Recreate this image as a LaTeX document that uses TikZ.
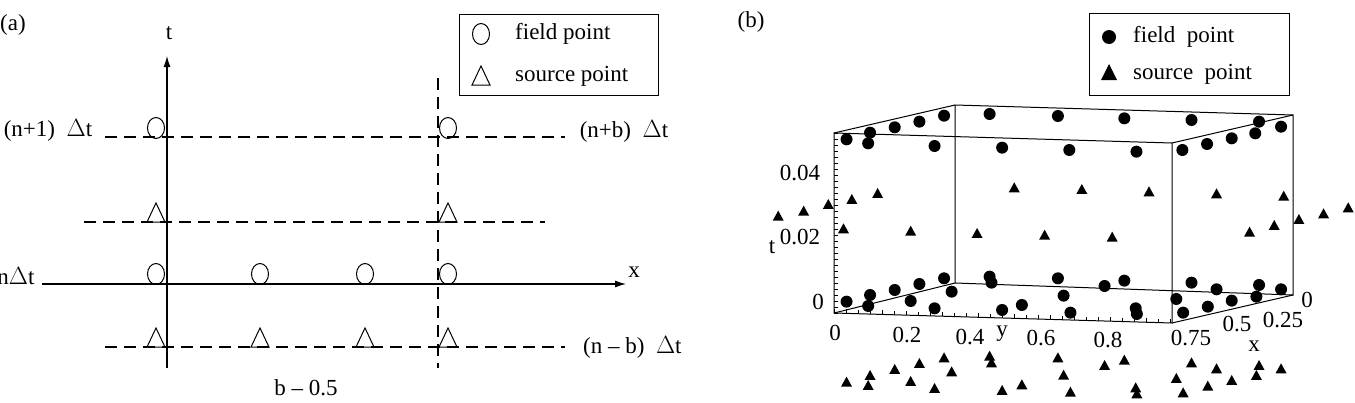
\documentclass[tikz,border=0pt]{standalone}
\usepackage{fontspec}
\setmainfont{Liberation Serif}
\begin{document}
\begin{tikzpicture}[x=1pt,y=-1pt,
  txt/.style={font=\fontsize{23}{26}\selectfont, inner sep=0pt},
  axis/.style={line width=1.1pt, -{Latex[length=11pt,width=7pt]}},
  dline/.style={line width=1.1pt, dash pattern=on 12pt off 7pt},
  ocirc/.style={draw, line width=1pt, ellipse, minimum width=17pt, minimum height=21pt, inner sep=0pt},
  fdot/.style={fill=black, circle, minimum size=12pt, inner sep=0pt},
  pics/otri/.style={code={\draw[line width=1pt] (-9,0)--(0,-19)--(9,0)--cycle;}},
  pics/ftri/.style={code={\fill (-5.5pt,-4pt)--(0pt,6pt)--(5.5pt,-4pt)--cycle;}},
]
\usetikzlibrary{arrows.meta,shapes.geometric}
\useasboundingbox (0,0) rectangle (1355,402);
% ---------- panel (a)
\node[txt] (la) at (13,25) {(a)};
\coordinate (t0) at (167,368); \coordinate (t1) at (167,56);
\coordinate (x0) at (42,284); \coordinate (x1) at (626,284);
\draw[axis] (t0) -- (t1);
\draw[axis] (x0) -- (x1);
\node[txt] (tl) at (169,33) {t};
\node[txt] (xl) at (634,272) {x};
\coordinate (v0) at (438,78); \coordinate (v1) at (438,368);
\draw[dline] (v0) -- (v1);
\coordinate (d1a) at (105,137); \coordinate (d1b) at (565,137);
\coordinate (d2a) at (84,222); \coordinate (d2b) at (545,222);
\coordinate (d3a) at (105,347); \coordinate (d3b) at (565,347);
\draw[dline] (d1a) -- (d1b);
\draw[dline] (d2a) -- (d2b);
\draw[dline] (d3a) -- (d3b);
\foreach \i/\x in {1/156,4/448}{\node[ocirc] (fa\i) at (\x,128) {};}
\foreach \i/\x in {1/156,2/260,3/365,4/448}{\node[ocirc] (fb\i) at (\x,274) {};}
\foreach \x in {156,448}{\pic at (\x,222) {otri};}
\foreach \x in {156,260,365,448}{\pic at (\x,347) {otri};}
\node[txt] (l1) at (48,130) {(n+1)\ \ $\Delta$t};
\node[txt] (l2) at (624,131) {(n+b)\ \ $\Delta$t};
\node[txt] (l3) at (16,276) {n$\Delta$t};
\node[txt,anchor=west] (l4) at (583,347) {(n -- b)\ \ $\Delta$t};
\node[txt] (l5) at (306,388) {b -- 0.5};
\node[draw, line width=1pt, minimum width=199pt, minimum height=81pt] (lega) at (558.5,54.5) {};
\node[ocirc] (lc) at (481,34) {};
\pic at (481,85) {otri};
\node[txt,anchor=west] (lt1) at (515,34) {field point};
\node[txt,anchor=west] (lt2) at (515,76) {source point};
% ---------- panel (b)
\node[txt] (lb) at (751,22) {(b)};
\node[draw, line width=1pt, minimum width=200pt, minimum height=82pt] (legb) at (1189,54) {};
\node[fdot,minimum size=14pt] (lbc) at (1109,37) {};
\fill (1101,80)--(1109,64)--(1117,80)--cycle;
\node[txt,anchor=west] (lbt1) at (1133,37) {field\ \ point};
\node[txt,anchor=west] (lbt2) at (1133,74) {source\ \ point};
% box
\coordinate (FTL) at (834,133); \coordinate (FTR) at (1172,143);
\coordinate (FBL) at (834,313); \coordinate (FBR) at (1172,323);
\coordinate (BTL) at (955,105); \coordinate (BTR) at (1293,115);
\coordinate (BBL) at (955,283); \coordinate (BBR) at (1293,295);
\draw[line width=1pt] (FTL)--(FTR)--(FBR)--(FBL)--cycle;
\draw[line width=1pt] (BTL)--(BTR)--(BBR)--(BBL)--cycle;
\draw[line width=1pt] (FTL)--(BTL) (FTR)--(BTR) (FBL)--(BBL) (FBR)--(BBR);
\foreach \k in {0,...,30}{\draw[line width=0.5pt] (834,{133+6*\k}) -- ++(4,0);}
\foreach \k in {0,...,28}{\draw[line width=0.5pt] ({834+12*\k},{313+10*\k/28}) -- ++(0,-4);}
\node[txt] (tb) at (772,247) {t};
\node[txt] (t4) at (800,173) {0.04};
\node[txt] (t2) at (800,237) {0.02};
\node[txt] (t0l) at (818,302) {0};
\node[txt] (y0) at (835,333) {0};
\node[txt] (y2) at (907,335) {0.2};
\node[txt] (y4) at (970,337) {0.4};
\node[txt] (yl) at (1002,334) {y};
\node[txt] (y6) at (1041,338) {0.6};
\node[txt] (y8) at (1108,340) {0.8};
\node[txt] (x75) at (1191,338) {0.75};
\node[txt] (x5) at (1237,324) {0.5};
\node[txt] (x25) at (1283,320) {0.25};
\node[txt] (x0l) at (1307,300) {0};
\node[txt] (xbl) at (1254,346) {x};
\begin{scope}[shift={(760,90)}, x=0.3795pt, y=-0.3333pt]
\foreach \p in {(228,148),(290,128),(285,160),(355,112),(420,95),(485,77),(460,168),(605,72),(638,173),(785,78),(815,180),(960,85),(992,185),(1137,90),(1113,180),(1178,162),(1243,145),(1315,95),(1305,130),(1373,110),
(228,635),(290,615),(285,648),(355,600),(420,582),(485,565),(505,605),(397,633),(460,655),(605,560),(610,578),(638,660),(690,645),(785,565),(800,617),(818,668),(908,588),(960,572),(990,655),(993,672),(1137,578),(1097,627),(1115,668),(1180,650),(1203,598),(1243,632),(1315,585),(1308,620),(1373,598)}
  {\node[fdot] at \p {};}
\foreach \p in {(48,380),(115,365),(180,345),(242,330),(310,312),(220,418),(397,425),(572,432),(670,295),(750,437),(848,300),(928,443),(1025,307),(1203,313),(1290,428),(1355,408),(1380,320),(1420,390),(1485,373),(1550,355),
(228,878),(290,858),(285,888),(355,840),(420,822),(485,805),(505,847),(397,876),(460,897),(605,800),(610,820),(638,903),(690,886),(785,805),(800,857),(818,908),(908,828),(960,812),(990,895),(993,913),(1137,820),(1097,867),(1115,910),(1180,890),(1203,838),(1243,873),(1315,828),(1308,858),(1373,838)}
  {\pic at \p {ftri};}
\end{scope}
\end{tikzpicture}
\end{document}
